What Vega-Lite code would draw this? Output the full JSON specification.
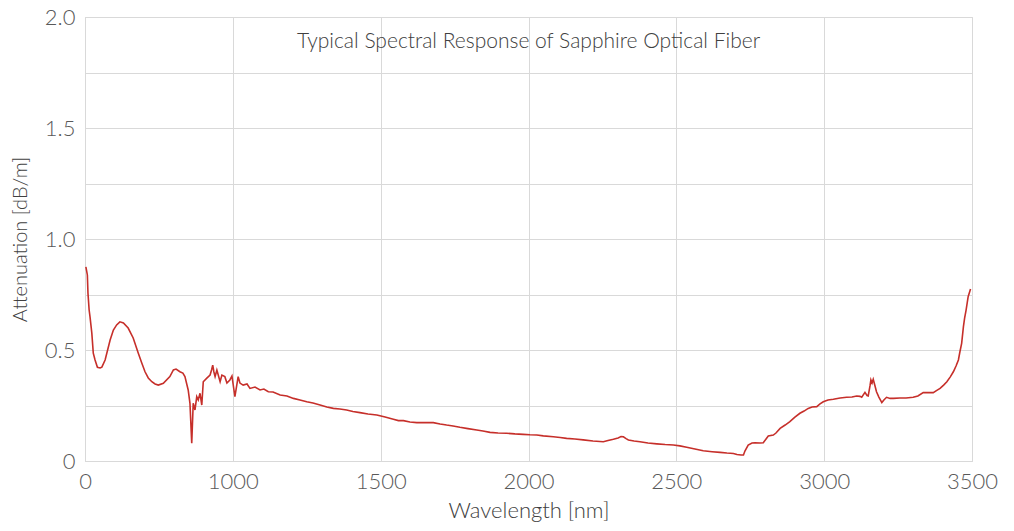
{
  "$schema": "https://vega.github.io/schema/vega-lite/v6.json",
  "width": 887,
  "height": 444,
  "autosize": {"type": "none"},
  "padding": {"left": 85, "top": 17, "right": 42, "bottom": 70},
  "background": "white",
  "config": {
    "font": "Lato",
    "view": {"stroke": "#d9d9d9", "strokeWidth": 1},
    "axis": {
      "gridColor": "#d9d9d9",
      "gridWidth": 1,
      "domainColor": "#d9d9d9",
      "ticks": false,
      "labelFont": "Lato",
      "labelFontWeight": 300,
      "labelColor": "#595959",
      "labelFontSize": 22,
      "titleFont": "Lato",
      "titleFontWeight": 300,
      "titleColor": "#404040",
      "titleFontSize": 22
    }
  },
  "title": {
    "text": "Typical Spectral Response of Sapphire Optical Fiber",
    "orient": "top",
    "anchor": "middle",
    "frame": "group",
    "offset": -63,
    "baseline": "alphabetic",
    "font": "Lato",
    "fontSize": 21,
    "fontWeight": 300,
    "color": "#404040"
  },
  "data": {
    "values": [
      {"wl": 503, "att": 0.874}, {"wl": 508, "att": 0.838}, {"wl": 510, "att": 0.757}, {"wl": 514, "att": 0.68},
      {"wl": 517, "att": 0.649}, {"wl": 523, "att": 0.577}, {"wl": 528, "att": 0.486}, {"wl": 534, "att": 0.455},
      {"wl": 542, "att": 0.422}, {"wl": 551, "att": 0.419}, {"wl": 557, "att": 0.423}, {"wl": 568, "att": 0.455},
      {"wl": 585, "att": 0.545}, {"wl": 596, "att": 0.59}, {"wl": 607, "att": 0.613}, {"wl": 618, "att": 0.627},
      {"wl": 630, "att": 0.622}, {"wl": 646, "att": 0.599}, {"wl": 663, "att": 0.554}, {"wl": 680, "att": 0.486},
      {"wl": 692, "att": 0.441}, {"wl": 703, "att": 0.402}, {"wl": 714, "att": 0.374}, {"wl": 726, "att": 0.357},
      {"wl": 737, "att": 0.347}, {"wl": 748, "att": 0.342}, {"wl": 765, "att": 0.35}, {"wl": 787, "att": 0.38},
      {"wl": 799, "att": 0.41}, {"wl": 808, "att": 0.414}, {"wl": 821, "att": 0.402}, {"wl": 831, "att": 0.396},
      {"wl": 838, "att": 0.38}, {"wl": 849, "att": 0.32}, {"wl": 855, "att": 0.26}, {"wl": 861, "att": 0.08},
      {"wl": 866, "att": 0.26}, {"wl": 872, "att": 0.23}, {"wl": 878, "att": 0.29}, {"wl": 883, "att": 0.275},
      {"wl": 889, "att": 0.305}, {"wl": 895, "att": 0.252}, {"wl": 900, "att": 0.357}, {"wl": 912, "att": 0.373},
      {"wl": 923, "att": 0.387}, {"wl": 928, "att": 0.41}, {"wl": 932, "att": 0.432}, {"wl": 936, "att": 0.401},
      {"wl": 940, "att": 0.38}, {"wl": 946, "att": 0.41}, {"wl": 957, "att": 0.357}, {"wl": 963, "att": 0.387},
      {"wl": 973, "att": 0.38}, {"wl": 980, "att": 0.351}, {"wl": 990, "att": 0.365}, {"wl": 997, "att": 0.383},
      {"wl": 1007, "att": 0.29}, {"wl": 1018, "att": 0.38}, {"wl": 1024, "att": 0.351}, {"wl": 1035, "att": 0.342},
      {"wl": 1048, "att": 0.347}, {"wl": 1058, "att": 0.327}, {"wl": 1075, "att": 0.333}, {"wl": 1092, "att": 0.32},
      {"wl": 1105, "att": 0.324}, {"wl": 1120, "att": 0.312}, {"wl": 1136, "att": 0.311}, {"wl": 1160, "att": 0.297},
      {"wl": 1183, "att": 0.293}, {"wl": 1205, "att": 0.282}, {"wl": 1227, "att": 0.275}, {"wl": 1250, "att": 0.267},
      {"wl": 1271, "att": 0.261}, {"wl": 1295, "att": 0.252}, {"wl": 1318, "att": 0.243}, {"wl": 1340, "att": 0.237},
      {"wl": 1362, "att": 0.234}, {"wl": 1385, "att": 0.23}, {"wl": 1406, "att": 0.223}, {"wl": 1430, "att": 0.218},
      {"wl": 1457, "att": 0.212}, {"wl": 1487, "att": 0.207}, {"wl": 1515, "att": 0.198}, {"wl": 1543, "att": 0.188},
      {"wl": 1560, "att": 0.182}, {"wl": 1577, "att": 0.182}, {"wl": 1599, "att": 0.176}, {"wl": 1622, "att": 0.173},
      {"wl": 1650, "att": 0.173}, {"wl": 1678, "att": 0.173}, {"wl": 1701, "att": 0.167}, {"wl": 1723, "att": 0.162},
      {"wl": 1745, "att": 0.158}, {"wl": 1768, "att": 0.152}, {"wl": 1795, "att": 0.146}, {"wl": 1825, "att": 0.14},
      {"wl": 1846, "att": 0.135}, {"wl": 1870, "att": 0.129}, {"wl": 1897, "att": 0.126}, {"wl": 1926, "att": 0.125},
      {"wl": 1954, "att": 0.122}, {"wl": 1982, "att": 0.12}, {"wl": 2005, "att": 0.118}, {"wl": 2028, "att": 0.117},
      {"wl": 2050, "att": 0.113}, {"wl": 2084, "att": 0.109}, {"wl": 2107, "att": 0.106}, {"wl": 2129, "att": 0.102},
      {"wl": 2157, "att": 0.099}, {"wl": 2185, "att": 0.095}, {"wl": 2218, "att": 0.09}, {"wl": 2253, "att": 0.087},
      {"wl": 2269, "att": 0.092}, {"wl": 2287, "att": 0.098}, {"wl": 2303, "att": 0.104}, {"wl": 2313, "att": 0.11},
      {"wl": 2321, "att": 0.109}, {"wl": 2330, "att": 0.101}, {"wl": 2338, "att": 0.095}, {"wl": 2357, "att": 0.09},
      {"wl": 2377, "att": 0.087}, {"wl": 2404, "att": 0.081}, {"wl": 2434, "att": 0.077}, {"wl": 2462, "att": 0.074},
      {"wl": 2490, "att": 0.072}, {"wl": 2512, "att": 0.068}, {"wl": 2535, "att": 0.062}, {"wl": 2563, "att": 0.054},
      {"wl": 2591, "att": 0.046}, {"wl": 2621, "att": 0.042}, {"wl": 2648, "att": 0.039}, {"wl": 2671, "att": 0.036},
      {"wl": 2693, "att": 0.034}, {"wl": 2705, "att": 0.029}, {"wl": 2719, "att": 0.027}, {"wl": 2727, "att": 0.027},
      {"wl": 2732, "att": 0.045}, {"wl": 2743, "att": 0.072}, {"wl": 2756, "att": 0.081}, {"wl": 2766, "att": 0.082},
      {"wl": 2783, "att": 0.081}, {"wl": 2794, "att": 0.082}, {"wl": 2811, "att": 0.113}, {"wl": 2828, "att": 0.117},
      {"wl": 2837, "att": 0.126}, {"wl": 2851, "att": 0.147}, {"wl": 2868, "att": 0.162}, {"wl": 2884, "att": 0.177},
      {"wl": 2901, "att": 0.198}, {"wl": 2918, "att": 0.215}, {"wl": 2932, "att": 0.225}, {"wl": 2946, "att": 0.237},
      {"wl": 2959, "att": 0.243}, {"wl": 2975, "att": 0.245}, {"wl": 2986, "att": 0.257}, {"wl": 2997, "att": 0.267},
      {"wl": 3013, "att": 0.275}, {"wl": 3031, "att": 0.278}, {"wl": 3054, "att": 0.284}, {"wl": 3076, "att": 0.287},
      {"wl": 3094, "att": 0.288}, {"wl": 3110, "att": 0.293}, {"wl": 3121, "att": 0.291}, {"wl": 3127, "att": 0.287},
      {"wl": 3138, "att": 0.309}, {"wl": 3145, "att": 0.295}, {"wl": 3149, "att": 0.293}, {"wl": 3155, "att": 0.338},
      {"wl": 3158, "att": 0.365}, {"wl": 3162, "att": 0.351}, {"wl": 3166, "att": 0.368}, {"wl": 3172, "att": 0.338},
      {"wl": 3177, "att": 0.312}, {"wl": 3185, "att": 0.288}, {"wl": 3195, "att": 0.263}, {"wl": 3202, "att": 0.275},
      {"wl": 3211, "att": 0.287}, {"wl": 3223, "att": 0.282}, {"wl": 3234, "att": 0.282}, {"wl": 3256, "att": 0.284},
      {"wl": 3277, "att": 0.284}, {"wl": 3301, "att": 0.287}, {"wl": 3317, "att": 0.293}, {"wl": 3335, "att": 0.308},
      {"wl": 3351, "att": 0.308}, {"wl": 3369, "att": 0.308}, {"wl": 3381, "att": 0.318}, {"wl": 3392, "att": 0.327},
      {"wl": 3404, "att": 0.342}, {"wl": 3415, "att": 0.357}, {"wl": 3426, "att": 0.378}, {"wl": 3437, "att": 0.402},
      {"wl": 3446, "att": 0.428}, {"wl": 3454, "att": 0.455}, {"wl": 3459, "att": 0.491}, {"wl": 3465, "att": 0.53},
      {"wl": 3471, "att": 0.605}, {"wl": 3475, "att": 0.644}, {"wl": 3480, "att": 0.68}, {"wl": 3487, "att": 0.74},
      {"wl": 3495, "att": 0.775}
    ]
  },
  "mark": {"type": "line", "color": "#c62f2a", "strokeWidth": 1.6, "clip": true},
  "encoding": {
    "x": {
      "field": "wl",
      "type": "quantitative",
      "scale": {"domain": [500, 3500], "nice": false, "zero": false},
      "axis": {
        "title": "Wavelength [nm]",
        "values": [500, 1000, 1500, 2000, 2500, 3000, 3500],
        "labelExpr": "datum.value == 500 ? '0' : format(datum.value, 'd')",
        "labelPadding": 10,
        "titlePadding": 8,
        "labelFlush": false
      }
    },
    "y": {
      "field": "att",
      "type": "quantitative",
      "scale": {"domain": [0, 2], "nice": false},
      "axis": {
        "title": "Attenuation [dB/m]",
        "titleFontSize": 20,
        "values": [0, 0.25, 0.5, 0.75, 1, 1.25, 1.5, 1.75, 2],
        "labelExpr": "datum.value == 0 ? '0' : (datum.value * 4) % 2 == 1 ? '' : format(datum.value, '.1f')",
        "labelPadding": 10,
        "titlePadding": 14
      }
    }
  }
}
